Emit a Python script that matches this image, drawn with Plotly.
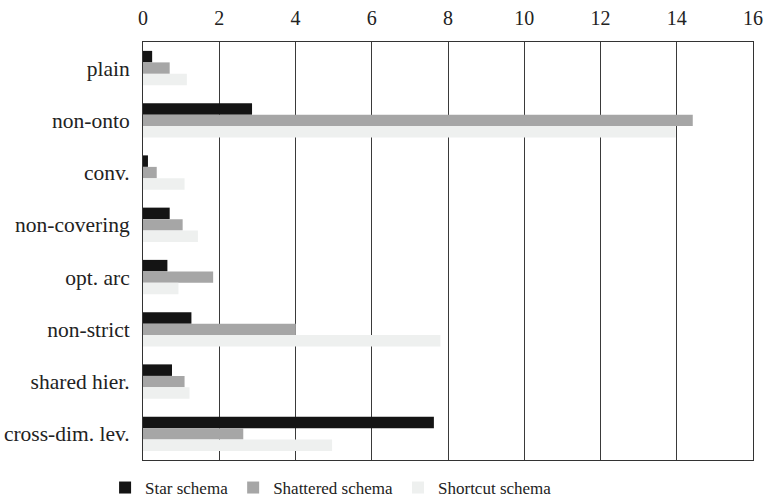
import plotly.graph_objects as go

categories = ["plain", "non-onto", "conv.", "non-covering", "opt. arc",
              "non-strict", "shared hier.", "cross-dim. lev."]
star_schema = [0.24, 2.86, 0.13, 0.70, 0.64, 1.27, 0.76, 7.63]
shattered_schema = [0.70, 14.42, 0.36, 1.04, 1.84, 4.01, 1.09, 2.63]
shortcut_schema = [1.15, 13.97, 1.09, 1.44, 0.93, 7.80, 1.22, 4.96]
x_ticks = [0, 2, 4, 6, 8, 10, 12, 14, 16]

FONT = "Liberation Serif, Times New Roman, serif"

fig = go.Figure()

series = [
    ("Star schema", star_schema, "#141414"),
    ("Shattered schema", shattered_schema, "#a6a6a6"),
    ("Shortcut schema", shortcut_schema, "#eef0ef"),
]
for name, vals, color in series:
    fig.add_trace(go.Bar(
        y=categories,
        x=vals,
        name=name,
        orientation="h",
        marker=dict(color=color, line=dict(width=0)),
    ))

fig.update_layout(
    width=767,
    height=501,
    barmode="group",
    bargap=0.34,
    bargroupgap=0,
    plot_bgcolor="white",
    paper_bgcolor="white",
    font=dict(family=FONT, size=20, color="#222222"),
    margin=dict(l=143, r=14, t=42, b=41),
    xaxis=dict(
        side="top",
        range=[0, 16],
        tickvals=x_ticks,
        showgrid=True,
        gridcolor="#3a3a3a",
        gridwidth=1,
        zeroline=False,
        showline=True,
        linecolor="#333333",
        linewidth=1,
        mirror=True,
        ticks="",
        ticklabelstandoff=8,
        tickfont=dict(size=20),
        automargin=False,
    ),
    yaxis=dict(
        autorange="reversed",
        showgrid=False,
        showline=True,
        linecolor="#333333",
        linewidth=1,
        mirror=True,
        ticks="",
        ticklabelstandoff=8,
        tickfont=dict(size=21.5),
        automargin=False,
    ),
    # container refs so the legend does not push the bottom margin
    legend=dict(
        orientation="h",
        xref="container",
        yref="container",
        x=0.137,
        xanchor="left",
        y=0.026,
        yanchor="middle",
        font=dict(family=FONT, size=17, color="#222222"),
        itemwidth=30,
    ),
)

# page body has a default 8px margin; drop it so the figure fills the window
fig.write_html("out.html", config={"displayModeBar": False},
               post_script="document.body.style.margin='0';")
